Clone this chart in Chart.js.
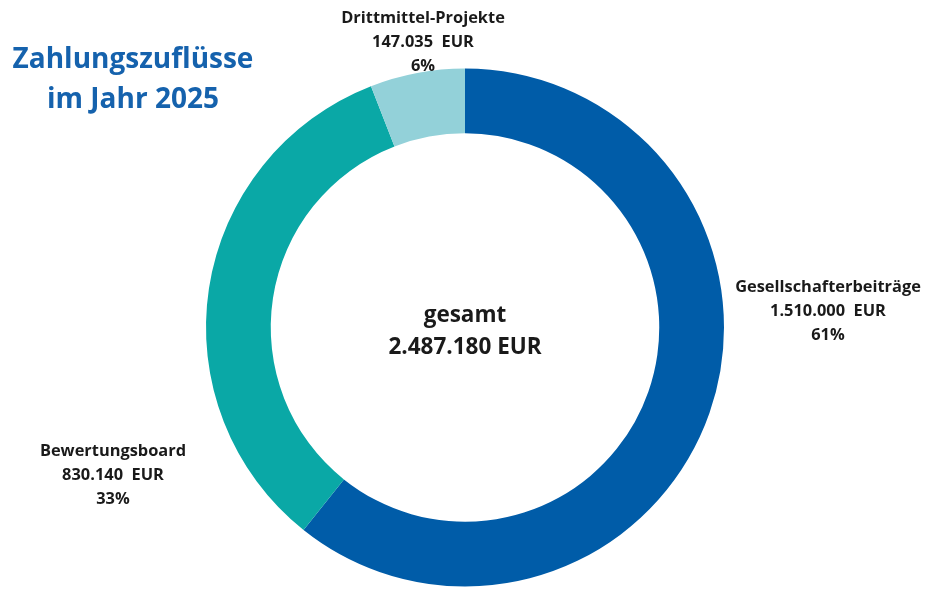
<!DOCTYPE html>
<html>
<head>
<meta charset="utf-8">
<script src="https://cdn.jsdelivr.net/npm/chart.js@4"></script>
<style>
  html, body { margin: 0; padding: 0; background: #fff; }
  #wrap { width: 925px; height: 589px; position: relative; }
</style>
</head>
<body>
<div id="wrap"><canvas id="donutChart" width="925" height="589"></canvas></div>
<script>
// data
const categories = ['Gesellschafterbeiträge', 'Bewertungsboard', 'Drittmittel-Projekte'];
const amounts = [1510000, 830140, 147035];
const amountLabels = ['1.510.000  EUR', '830.140  EUR', '147.035  EUR'];
const percentLabels = ['61%', '33%', '6%'];
const totalLabel = '2.487.180 EUR';
const titleLines = ['Zahlungszuflüsse', 'im Jahr 2025'];
const colors = ['#005ca8', '#0aa8a6', '#93d1d9'];

// where each label block is centred (x, y of first line)
const labelAnchors = [[828, 287], [113, 451], [423, 18]];

const textPlugin = {
  id: 'texts',
  afterDraw(chart) {
    const ctx = chart.ctx;
    ctx.save();
    ctx.textAlign = 'center';
    ctx.textBaseline = 'middle';

    // title
    ctx.fillStyle = '#1562ad';
    ctx.font = 'bold 28px "Open Sans"';
    ctx.fillText(titleLines[0], 133, 60);
    ctx.fillText(titleLines[1], 133, 100);

    // segment labels
    ctx.fillStyle = '#1a1a1a';
    ctx.font = 'bold 16.4px "Open Sans"';
    categories.forEach((c, i) => {
      const [x, y] = labelAnchors[i];
      ctx.fillText(c, x, y);
      ctx.fillText(amountLabels[i], x, y + 24);
      ctx.fillText(percentLabels[i], x, y + 48);
    });

    // centre
    const meta = chart.getDatasetMeta(0).data[0];
    ctx.font = 'bold 22.5px "Open Sans"';
    ctx.fillText('gesamt', meta.x, meta.y - 12);
    ctx.fillText(totalLabel, meta.x, meta.y + 20);
    ctx.restore();
  }
};

const donutCtx = document.getElementById('donutChart').getContext('2d');
const donutChart = new Chart(donutCtx, {
  type: 'doughnut',
  data: {
    labels: categories,
    datasets: [{
      data: amounts,
      backgroundColor: colors,
      borderWidth: 0
    }]
  },
  options: {
    responsive: false,
    animation: false,
    cutout: '75%',
    layout: {
      padding: { left: 206, right: 201, top: 68, bottom: 2 }
    },
    plugins: {
      legend: { display: false },
      tooltip: { enabled: false }
    }
  },
  plugins: [textPlugin]
});
</script>
</body>
</html>
